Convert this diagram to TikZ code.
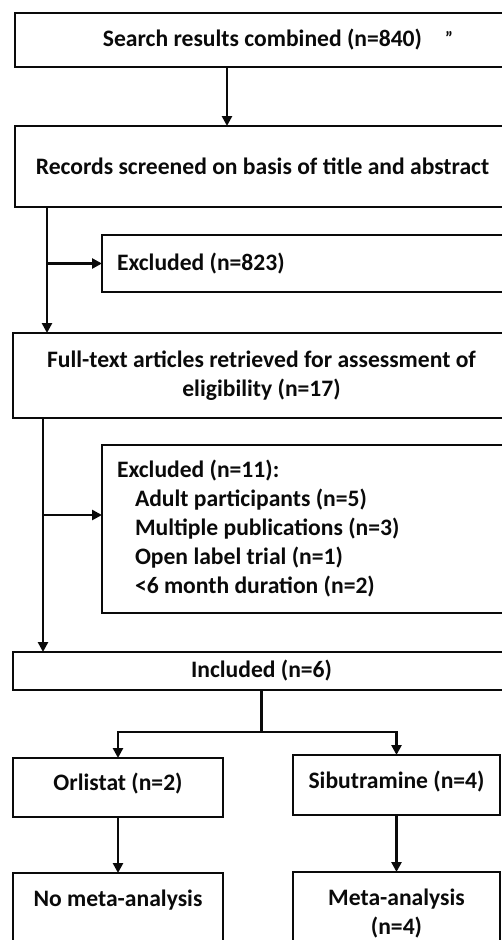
\documentclass[tikz,border=0pt]{standalone}
\usepackage{fontspec}
\setmainfont{Carlito}
\usetikzlibrary{arrows.meta}
\definecolor{FlowInk}{gray}{0.04}
\tikzset{
    flow/diagram/.style={
        x=1pt, y=-1pt,
        font=\fontsize{23.6}{29}\selectfont\bfseries,
        text=FlowInk,
        line width=2.5pt,
        every node/.style={inner sep=0pt, outer sep=0pt}
    },
    flow/box/.style={draw=FlowInk, line width=2.5pt, rectangle, align=center},
    flow/list/.style={flow/box, align=flush left, inner xsep=15pt},
    flow/link/.style={draw=FlowInk, line width=2.5pt},
    flow/arrow/.style={flow/link, -{Triangle[length=10pt, width=10pt]}},
    flow/mark/.style={font=\fontsize{18}{18}\selectfont\bfseries}
}

\begin{document}
\begin{tikzpicture}[flow/diagram]
    \useasboundingbox (0,0) rectangle (502,940);
    \clip (0,0) rectangle (502,940);

    % Search and screening.
    \node[flow/box, minimum width=495, minimum height=54] (search)
        at (262.5,40) {Search results combined (n=840)};
    \node[flow/mark] (mark) at (449,38) {”};
    \node[flow/box, minimum width=495, minimum height=81] (screen)
        at (262.5,166.5) {Records screened on basis of title and abstract};
    \node[flow/list, text width=378, minimum height=57] (excl1)
        at (306,263.5) {Excluded (n=823)};
    \node[flow/box, minimum width=497, minimum height=85] (full)
        at (261.5,375.5) {Full-text articles retrieved for assessment of\\
                          eligibility (n=17)};
    \node[flow/list, text width=378, minimum height=168] (excl2)
        at (306,529) {Excluded (n=11):\\
                      \hspace*{18pt}Adult participants (n=5)\\
                      \hspace*{18pt}Multiple publications (n=3)\\
                      \hspace*{18pt}Open label trial (n=1)\\
                      \hspace*{18pt}<6 month duration (n=2)};
    \node[flow/box, minimum width=497, minimum height=38] (incl)
        at (261.5,671) {Included (n=6)};

    % Split by drug.
    \node[flow/box, minimum width=210, minimum height=59, text depth=12pt] (orl)
        at (118,787.5) {Orlistat (n=2)};
    \node[flow/box, minimum width=207, minimum height=60, text depth=10pt] (sib)
        at (396.5,785) {Sibutramine (n=4)};
    \node[flow/box, minimum width=210, minimum height=82] (nometa)
        at (118,914) {No meta-analysis\\ \phantom{(n=4)}};
    \node[flow/box, minimum width=207, minimum height=83] (meta)
        at (396.5,913.5) {Meta-analysis\\ (n=4)};

    \draw[flow/arrow] ([xshift=212pt]search.south west)
                   -- ([xshift=212pt]screen.north west);

    \coordinate (trunk1) at ([xshift=32pt]screen.south west);
    \draw[flow/arrow] (trunk1) -- (trunk1 |- full.north);
    \draw[flow/arrow] (trunk1 |- excl1.west) -- (excl1.west);

    \coordinate (trunk2) at ([xshift=30pt]full.south west);
    \coordinate (gate2) at ([yshift=14pt]excl2.west);
    \draw[flow/arrow] (trunk2) -- (trunk2 |- incl.north);
    \draw[flow/arrow] (trunk2 |- gate2) -- (gate2);

    \coordinate (split) at ([yshift=-42pt]incl.south);
    \draw[flow/link] (incl.south) -- (split);
    \draw[flow/arrow] (split) -| (orl.north);
    \draw[flow/arrow] (split) -| (sib.north);
    \draw[flow/arrow] (orl.south) -- (nometa.north);
    \draw[flow/arrow] (sib.south) -- (meta.north);
\end{tikzpicture}
\end{document}
